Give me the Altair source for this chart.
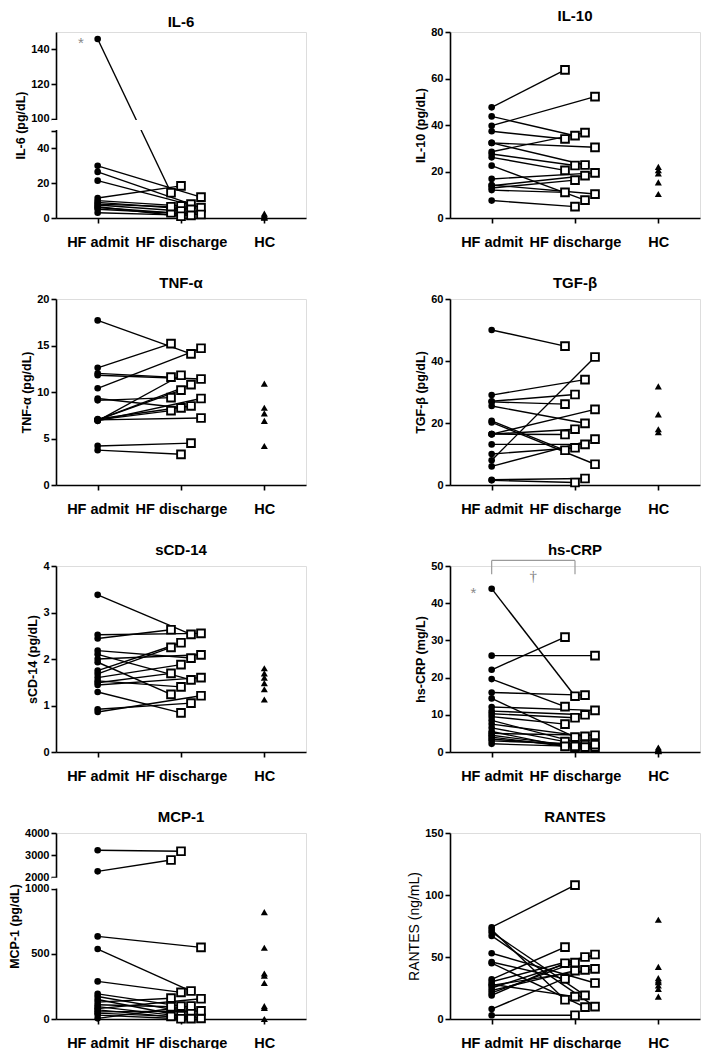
import altair as alt
import pandas as pd

FONT = "Liberation Sans"
CATS = ["HF admit", "HF discharge", "HC"]

# ---- data ----
il6_admit = [146, 30, 26.5, 21.5, 11.5, 10, 9, 7.5, 6, 5, 3, 8, 6.5]
il6_disch = [14.5, 12, 8, 6, 18.5, 7, 5, 4, 3, 2, 1.5, 6.5, 1]
il6_hc = [2.5, 1.5, 1.0, 0.5, 0.2]

il10_admit = [47.6, 39.7, 43.7, 37.3, 28.5, 32.3, 32.3, 27.5, 26.1, 22.5, 16.8, 13.9, 12.9, 12.0, 14.2, 7.5]
il10_disch = [63.7, 52.2, 35.4, 34.0, 36.7, 30.4, 22.8, 22.6, 20.5, 7.7, 19.4, 18.2, 16.3, 11.0, 10.3, 4.9]
il10_hc = [22.0, 20.6, 19.2, 15.3, 10.3]

tnf_admit = [17.7, 12.6, 10.4, 12.0, 11.8, 9.3, 9.1, 7.0, 7.0, 6.9, 7.1, 6.9, 7.0, 7.0, 4.2, 3.75]
tnf_disch = [14.1, 15.2, 14.7, 11.6, 11.4, 8.3, 9.4, 10.2, 10.8, 11.8, 8.5, 9.3, 7.2, 8.0, 4.5, 3.3]
tnf_hc = [10.9, 8.3, 7.7, 6.9, 4.2]

tgf_admit = [50, 29, 27, 26.8, 25.5, 20.7, 20.2, 16.4, 16.4, 16.4, 13.1, 10, 8, 6, 1.7, 1.5]
tgf_disch = [44.8, 34, 29.2, 26.1, 19.9, 11.2, 6.7, 24.4, 18, 16.3, 13.1, 12, 41.3, 14.8, 2.1, 0.8]
tgf_hc = [31.8, 22.8, 18, 17]

scd_admit = [3.38, 2.52, 2.44, 2.18, 2.10, 2.00, 1.93, 1.75, 1.68, 1.60, 1.49, 1.44, 1.53, 1.29, 0.92, 0.86]
scd_disch = [2.53, 2.55, 2.63, 2.02, 1.55, 2.09, 1.24, 2.35, 2.25, 1.88, 1.69, 1.60, 1.40, 0.84, 1.05, 1.21]
scd_hc = [1.80, 1.69, 1.60, 1.48, 1.35, 1.13]

crp_admit = [43.9, 25.9, 22.1, 19.6, 16.0, 14.4, 12.1, 11.0, 10.3, 9.5, 8.5, 7.5, 6.5, 5.5, 5.0, 4.5, 4.0, 3.5, 3.0, 2.2]
crp_disch = [15.0, 25.9, 30.9, 12.2, 15.3, 4.0, 11.2, 10.0, 9.2, 7.5, 2.0, 4.2, 2.8, 1.5, 4.5, 1.3, 1.2, 1.3, 2.0, 1.5]
crp_hc = [1.2, 0.8, 0.5, 0.3, 0.2]

mcp_admit = [3220, 2265, 635, 538, 289, 193, 173, 150, 130, 110, 95, 80, 70, 55, 45, 30, 5]
mcp_disch = [3176, 2780, 551, 215, 205, 99, 49, 25, 160, 94, 5, 156, 3, 62, 20, 2, 100]
mcp_hc = [822, 548, 350, 333, 277, 99, 86, 0]

rantes_admit = [74, 72, 70, 67, 53, 46, 45, 32, 30, 28, 27, 25, 23, 21, 19, 8, 3]
rantes_disch = [108, 15.5, 19, 10, 29, 32.4, 9.6, 58, 50, 18, 40.4, 52, 39, 45.5, 45, 39.6, 3]
rantes_hc = [80, 42, 33, 31, 29.7, 27, 24.3, 18]

W, H = 250, 186


def panel(title, ytitle, adm, dis, hc, ymax, ticks, tv="datum.val",
          label_expr=None, band=None, stars=None, bracket=None, dagger=None,
          ytitle_bold=True, ytitle_size=12.5):
    rows = []
    for i, (a, d) in enumerate(zip(adm, dis)):
        rows.append({"pid": i, "grp": 1, "val": a})
        rows.append({"pid": i, "grp": 2, "val": d})
    for j, h in enumerate(hc):
        rows.append({"pid": 1000 + j, "grp": 3, "val": h})
    df = pd.DataFrame(rows)

    xsc = alt.Scale(domain=[0.5, 3.5], nice=False, zero=False)
    ysc = alt.Scale(domain=[0, ymax], nice=False, zero=True)
    xax = alt.Axis(values=[1, 2, 3], title=None,
                   labelExpr="['HF admit','HF discharge','HC'][datum.value-1]")
    ykw = dict(values=ticks, title=ytitle,
               titleFontWeight="bold" if ytitle_bold else "normal",
               titleFontSize=ytitle_size)
    if label_expr:
        ykw["labelExpr"] = label_expr
    yax = alt.Axis(**ykw)
    X = alt.X("xpos:Q", scale=xsc, axis=xax)
    Y = alt.Y("tv:Q", scale=ysc, axis=yax)

    lines = alt.Chart().mark_line(color="black", strokeWidth=1.4).encode(
        X, Y, detail="pid:N", order="grp:Q").transform_filter("datum.grp < 3")
    circ = alt.Chart().mark_circle(color="black", size=44, opacity=1).encode(
        X, Y).transform_filter("datum.grp == 1")
    sq = alt.Chart().mark_point(shape="square", filled=True, fill="white",
                                stroke="black", strokeWidth=1.9, size=60,
                                opacity=1).encode(X, Y).transform_filter("datum.grp == 2")
    tri = alt.Chart().mark_point(shape="triangle-up", filled=True, color="black",
                                 size=50, opacity=1).encode(X, Y).transform_filter("datum.grp == 3")

    inner = alt.layer(lines, circ, sq, tri, data=df).transform_calculate(
        tv=tv
    ).transform_window(
        rn="row_number()", groupby=["grp"], sort=[alt.SortField("val")]
    ).transform_calculate(
        xpos="datum.grp + (datum.grp == 2 ? ((datum.rn % 4) - 1) * 0.12 : 0)"
    )
    layers = [inner]

    if band is not None:
        bdf = pd.DataFrame({"lo": [band[0]], "hi": [band[1]]})
        layers.append(alt.Chart(bdf).mark_rect(color="white").encode(
            x=alt.value(-4), x2=alt.value(W),
            y=alt.Y("lo:Q", scale=ysc, axis=yax), y2="hi:Q"))
    if bracket is not None:
        layers.append(alt.Chart(pd.DataFrame(bracket)).mark_rule(
            color="#9a9a9a", strokeWidth=1.2).encode(
            x=alt.X("x:Q", scale=xsc, axis=xax), x2="x2:Q",
            y=alt.Y("y:Q", scale=ysc, axis=yax), y2="y2:Q"))
    if dagger is not None:
        layers.append(alt.Chart(pd.DataFrame(dagger)).mark_text(
            color="#808080", fontSize=15, font="Liberation Serif").encode(
            x=alt.X("x:Q", scale=xsc, axis=xax),
            y=alt.Y("y:Q", scale=ysc, axis=yax), text="txt:N"))
    if stars is not None:
        layers.append(alt.Chart(pd.DataFrame(stars)).transform_calculate(
            tv=tv).mark_text(color="#888888", fontSize=15, dy=4).encode(
            x=alt.X("x:Q", scale=xsc, axis=xax),
            y=alt.Y("tv:Q", scale=ysc, axis=yax), text="txt:N"))

    return alt.layer(*layers).properties(
        width=W, height=H,
        title=alt.TitleParams(title, fontSize=15, fontWeight="bold", font=FONT,
                              anchor="middle", frame="group", offset=2, color="black"))


p_il6 = panel("IL-6", "IL-6 (pg/dL)", il6_admit, il6_disch, il6_hc, 107,
              [0, 20, 40, 50, 57, 77, 97],
              tv="datum.val <= 50 ? datum.val : datum.val - 43",
              label_expr="datum.value == 50 ? '' : (datum.value > 50 ? format(datum.value + 43, 'd') : format(datum.value, 'd'))",
              band=(50.6, 56.4),
              stars={"x": [0.8], "val": [146], "txt": ["*"]})
p_il10 = panel("IL-10", "IL-10 (pg/dL)", il10_admit, il10_disch, il10_hc, 80, [0, 20, 40, 60, 80])
p_tnf = panel("TNF-α", "TNF-α (pg/dL)", tnf_admit, tnf_disch, tnf_hc, 20, [0, 5, 10, 15, 20])
p_tgf = panel("TGF-β", "TGF-β (pg/dL)", tgf_admit, tgf_disch, tgf_hc, 60, [0, 20, 40, 60])
p_scd = panel("sCD-14", "sCD-14 (pg/dL)", scd_admit, scd_disch, scd_hc, 4, [0, 1, 2, 3, 4])
p_crp = panel("hs-CRP", "hs-CRP (mg/L)", crp_admit, crp_disch, crp_hc, 50, [0, 10, 20, 30, 40, 50],
              stars={"x": [0.78], "val": [43.9], "txt": ["*"]},
              bracket={"x": [1, 1, 2], "x2": [2, 1, 2], "y": [51.5, 51.5, 51.5], "y2": [51.5, 47.8, 47.8]},
              dagger={"x": [1.5], "y": [47.3], "txt": ["†"]})
p_mcp = panel("MCP-1", "MCP-1 (pg/dL)", mcp_admit, mcp_disch, mcp_hc, 1430,
              [0, 500, 1000, 1090, 1260, 1430],
              tv="datum.val <= 1000 ? datum.val : 1090 + (datum.val - 2000) * 0.17",
              label_expr="datum.value <= 1000 ? format(datum.value, 'd') : format(round(2000 + (datum.value - 1090) / 0.17), 'd')",
              band=(1004, 1086))
p_ran = panel("RANTES", "RANTES (ng/mL)", rantes_admit, rantes_disch, rantes_hc, 150, [0, 50, 100, 150],
              ytitle_bold=False, ytitle_size=14)

chart = alt.concat(p_il6, p_il10, p_tnf, p_tgf, p_scd, p_crp, p_mcp, p_ran,
                   columns=2, spacing={"row": 26, "column": 100}).properties(
    padding={"left": 0, "top": 0, "right": 2, "bottom": 0}
).configure_view(stroke=None).configure(font=FONT).configure_axis(
    grid=False, domainColor="black", domainWidth=1.6, tickColor="black",
    tickWidth=1.6, tickSize=5, labelFont=FONT, labelFontWeight="bold",
    labelFontSize=11, labelColor="black", titleFont=FONT, titleColor="black",
    labelOverlap=False, labelFlush=False, titlePadding=3
).configure_axisX(labelFontSize=14.5, labelPadding=12)

chart.save("out.html", embed_options={"renderer": "svg", "actions": False})
